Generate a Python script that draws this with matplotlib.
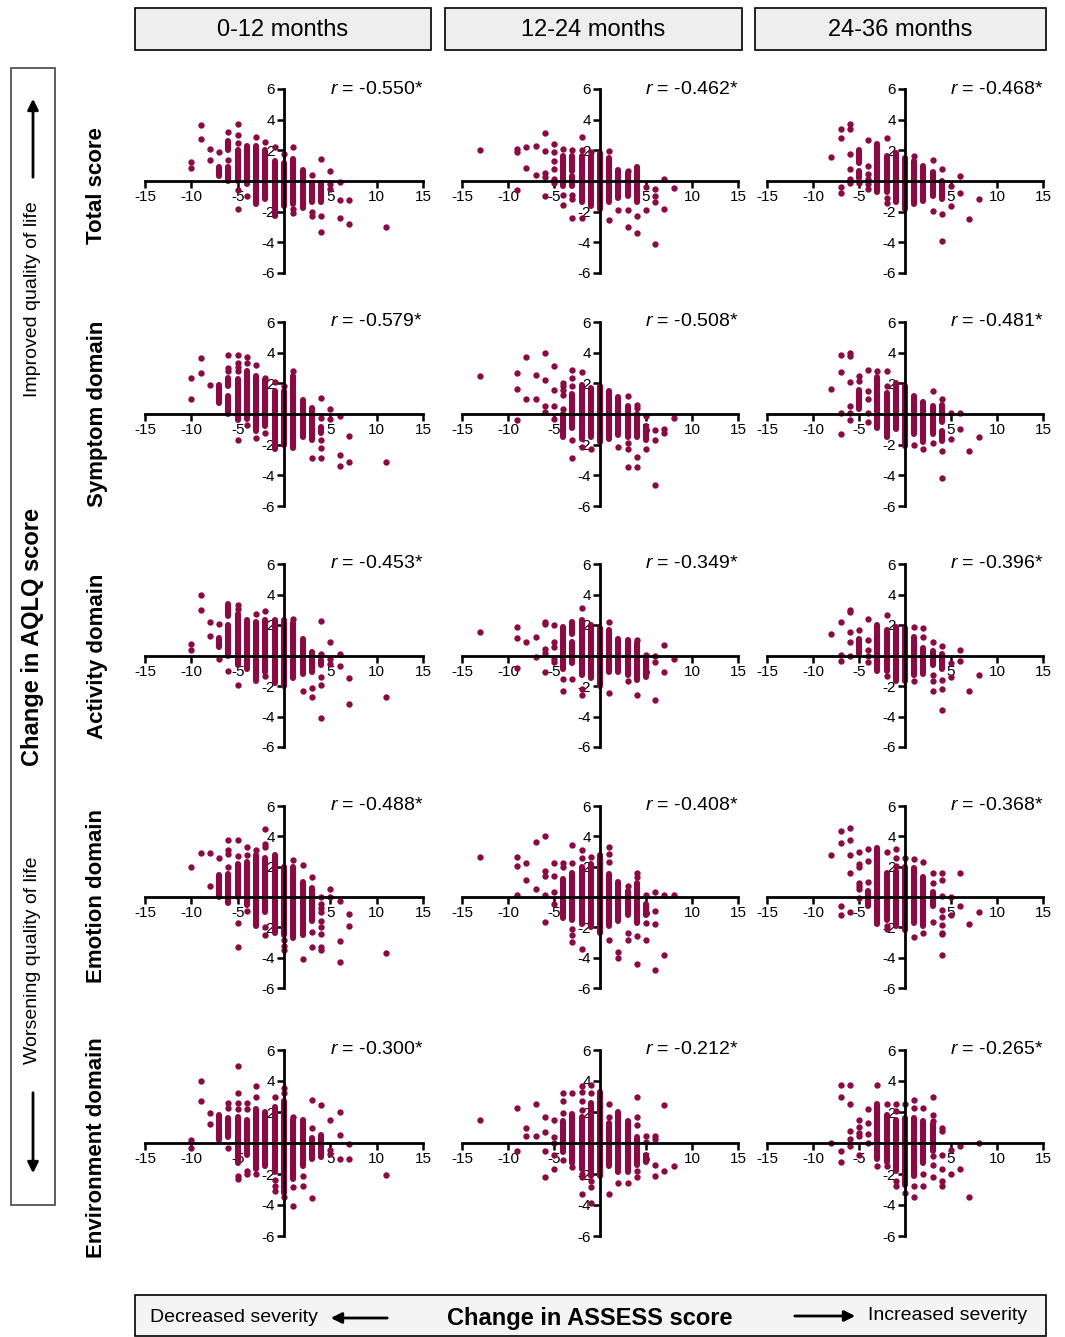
import matplotlib
matplotlib.use("Agg")
import matplotlib.pyplot as plt
from matplotlib.patches import Rectangle, FancyArrowPatch

plt.rcParams['font.family'] = ['Liberation Sans', 'DejaVu Sans']
plt.rcParams['axes.unicode_minus'] = False
plt.rcParams['mathtext.fontset'] = 'custom'
plt.rcParams['mathtext.it'] = 'Liberation Sans:italic'
plt.rcParams['mathtext.rm'] = 'Liberation Sans'

# ---------------- data ----------------
periods = ['0-12 months', '12-24 months', '24-36 months']
domains = ['Total score', 'Symptom domain', 'Activity domain', 'Emotion domain', 'Environment domain']
r_values = [['-0.550', '-0.462', '-0.468'],
            ['-0.579', '-0.508', '-0.481'],
            ['-0.453', '-0.349', '-0.396'],
            ['-0.488', '-0.408', '-0.368'],
            ['-0.300', '-0.212', '-0.265']]
x_ticks = [-15, -10, -5, 5, 10, 15]
y_ticks = [-6, -4, -2, 2, 4, 6]

# dense columns of points: x (ASSESS change), lower and upper AQLQ change
tot_a_cx = [-7, -6, -6, -5, -4, -3, -2, -1, 0, 1, 2, 3, 4]
tot_a_lo = [0.33, 2.0, 0.0, 0.0, -0.2, -1.5, -1.2, -2.3, -1.6, -1.5, -1.75, -1.4, -1.4]
tot_a_hi = [0.9, 2.6, 0.9, 2.0, 2.3, 2.3, 2.0, 1.3, 1.2, 1.45, 0.7, -0.1, -0.1]
tot_a_pts = {-10: [1.27, 0.83], -9: [3.65, 2.73], -8: [2.1, 1.35], -7: [1.9], -6: [3.17, 1.4],
             -5: [3.7, 3.0, 2.5, -0.6, -1.8], -4: [-1.0], -3: [2.85], -2: [2.55], -1: [2.2], 0: [1.75],
             1: [2.25, -1.85, -2.1], 3: [0.37, -2.0, -2.3], 4: [1.42, -2.3, -3.3], 5: [0.65, -0.2, -0.5],
             6: [-0.05, -1.25, -2.4], 7: [-1.25, -2.8], 11: [-3.0]}

tot_b_cx = [-4, -3, -3, -2, -1, 0, 1, 2, 3, 4]
tot_b_lo = [-0.3, 0.65, -0.3, -1.4, -1.6, -1.8, -1.4, -1.1, -1.0, -1.4]
tot_b_hi = [1.65, 1.65, 0.3, 1.6, 1.6, 1.8, 1.5, 0.7, 0.5, 0.9]
tot_b_pts = {-13: [2.05], -9: [2.1, 1.9, -0.6], -8: [2.2, 0.85], -7: [2.3, 0.4],
             -6: [3.15, 1.95, 0.5, 0.25, -1.0], -5: [2.4, 1.9, 1.3, 0.8, 0.1, -0.1],
             -4: [2.1, -0.9, -1.55], -3: [2.0, -0.9, -1.2, -2.4], -2: [2.9, 2.0, -2.4], -1: [1.9],
             1: [1.95, -2.55], 2: [-1.9], 3: [0.65, -1.9, -3.0], 4: [-2.3, -3.4], 5: [-0.4, -1.9],
             6: [-0.5, -1.0, -1.4, -4.1], 7: [0.15, -1.8], 8: [-0.45]}

tot_c_cx = [-5, -5, -3, -2, -1, 0, 1, 2, 3, 4]
tot_c_lo = [1.2, 0.2, -0.7, -0.7, -1.4, -1.8, -1.5, -1.3, -1.0, -1.2]
tot_c_hi = [2.0, 0.65, 2.4, 1.6, 1.8, 1.5, 1.3, 1.0, 0.6, 0.0]
tot_c_pts = {-8: [1.55], -7: [3.4, 2.8, -0.4, -0.75], -6: [3.75, 3.4, 1.75, 0.8, 0.1, -0.1],
             -5: [-0.1], -4: [2.7, 1.0, 0.45, 0.1, -0.2, -0.55], -2: [2.8, -1.1, -1.45], 1: [1.65],
             3: [1.35, -1.95], 4: [0.8, -2.15, -3.9], 5: [-0.3, -1.6], 6: [0.35, -0.8], 7: [-2.5], 8: [-1.2]}

sym_a_cx = [-7, -6, -6, -5, -4, -3, -2, -1, 0, 1, 2, 3, 4]
sym_a_lo = [0.7, 1.8, 0.0, -0.4, -0.3, -1.1, -0.8, -2.3, -2.0, -2.2, -1.5, -1.7, -1.25]
sym_a_hi = [1.9, 2.35, 1.15, 2.3, 2.8, 2.5, 2.2, 1.5, 1.5, 2.5, 0.9, 0.4, -0.85]
sym_a_pts = {-10: [2.35, 0.95], -9: [3.65, 2.65], -8: [1.9], -6: [3.85, 3.0, 2.8],
             -5: [3.85, 3.3, 3.05, 2.8, -1.7], -4: [3.75, 3.3, -0.7], -3: [3.2, -1.55], -2: [2.35, -1.25],
             -1: [2.1], 0: [1.8], 1: [2.8], 3: [-2.85], 4: [1.05, -0.25, -1.7, -2.2, -2.85],
             5: [0.35, -0.3], 6: [-0.1, -2.7, -3.4], 7: [-1.45, -3.1], 11: [-3.1]}

sym_b_cx = [-4, -3, -2, -1, 0, 1, 2, 3, 4, 5]
sym_b_lo = [-1.5, -0.9, -1.6, -1.5, -1.8, -1.6, -1.4, -1.5, -1.5, -1.7]
sym_b_hi = [0.0, 1.3, 1.9, 1.7, 1.8, 1.5, 1.1, 0.5, 0.0, -0.8]
sym_b_pts = {-13: [2.5], -9: [2.7, 1.65, -0.4], -8: [3.7, 1.0], -7: [2.55, 1.0],
             -6: [3.95, 2.25, 0.55, 0.15], -5: [3.15, 1.55, 0.5, -0.3], -4: [2.05, 1.8, 1.55, 1.25, 0.35],
             -3: [2.85, 2.35, 1.8, -1.7, -2.9], -2: [2.75, -2.15], -1: [-2.25], 2: [-2.15],
             3: [1.15, -1.9, -2.3, -3.45], 4: [0.6, 0.4, -2.8, -3.45], 5: [-0.15, -2.25],
             6: [-1.05, -1.7, -4.65], 7: [-0.95, -1.25], 8: [-0.25]}

sym_c_cx = [-5, -3, -2, -1, 0, 1, 2, 3, 4, 4]
sym_c_lo = [0.35, -0.9, -1.5, -1.0, -2.1, -1.3, -1.8, -1.3, -0.55, -1.75]
sym_c_hi = [1.55, 2.4, 1.4, 2.0, 1.8, 1.2, 0.8, 0.5, 0.6, -1.1]
sym_c_pts = {-8: [1.65], -7: [3.85, 2.75, 0.05, -1.3], -6: [4.0, 3.8, 2.1, 0.5, 0.05, -0.4],
             -5: [2.45, 2.15], -4: [2.9, 1.5, 0.95, 0.05, -0.55], -3: [2.8], -2: [2.8, 1.85],
             1: [-2.0], 2: [-2.25], 3: [1.5, -1.9], 4: [0.95, -2.4, -4.2], 5: [0.05, -1.6],
             6: [0.05, -0.95], 7: [-2.4], 8: [-1.5]}

act_a_cx = [-7, -6, -6, -5, -4, -3, -2, -1, 0, 1, 2, 3, 4]
act_a_lo = [0.55, 2.6, 0.0, -0.6, -0.9, -1.7, -1.1, -1.8, -2.0, -1.5, -1.2, -1.1, -0.65]
act_a_hi = [1.15, 3.4, 2.0, 2.7, 2.3, 2.2, 2.3, 2.3, 2.3, 2.1, 1.1, 0.2, -0.3]
act_a_pts = {-10: [0.75, 0.35], -9: [3.95, 3.0], -8: [2.2, 1.3], -7: [2.05, -0.2], -6: [-1.0],
             -5: [3.3, 3.05, -1.95], -3: [2.7], -2: [2.9, -1.35], 1: [2.4], 2: [-2.3], 3: [-2.1, -2.7],
             4: [2.25, 0.1, -1.4, -1.95, -4.1], 5: [0.9, -0.2, -0.55], 6: [0.1, -0.7],
             7: [-1.45, -3.15], 11: [-2.7]}

act_b_cx = [-4, -3, -3, -2, -1, 0, 1, 2, 3, 4, 5]
act_b_lo = [-0.9, 1.4, -0.5, -1.3, -1.5, -2.0, -1.1, -1.1, -1.3, -1.6, -1.4]
act_b_hi = [1.9, 2.2, 0.9, 2.3, 2.0, 1.8, 1.7, 1.1, 1.0, 0.8, -0.2]
act_b_pts = {-13: [1.55], -9: [1.9, 1.15, -0.8], -8: [0.9], -7: [1.2, -0.1],
             -6: [2.2, 2.05, 0.45, 0.15, -1.1], -5: [2.0, 0.9, 0.55, -0.2, -0.45], -4: [-1.55, -2.35],
             -3: [-1.55], -2: [3.1, -2.2, -2.6], 1: [2.2, -2.45], 3: [-1.65], 4: [1.0, -2.6], 5: [0.05],
             6: [0.0, -0.45, -2.9], 7: [0.7, -1.05], 8: [-0.2]}

act_c_cx = [-5, -3, -2, -1, 0, 1, 2, 3, 4]
act_c_lo = [0.1, -1.0, -1.0, -1.7, -1.7, -1.3, -1.2, -0.6, -0.9]
act_c_hi = [1.1, 2.0, 1.7, 1.9, 1.8, 1.2, 0.5, 0.3, 0.1]
act_c_pts = {-8: [1.4], -7: [2.2, 0.05, -0.35], -6: [3.0, 2.85, 1.55, 0.9, -0.05], -5: [1.7],
             -4: [2.4, 1.0, 0.35, 0.0, -0.4], -2: [2.65, -1.35], 1: [1.85, -1.65], 2: [1.8, 1.2],
             3: [0.9, -1.3, -1.7, -2.3], 4: [0.6, -1.6, -2.2, -3.55], 5: [-0.5, -1.4], 6: [0.35, -0.35],
             7: [-2.35], 8: [-1.3]}

emo_a_cx = [-7, -6, -5, -4, -3, -2, -1, 0, 1, 2, 3]
emo_a_lo = [0.0, -0.4, 0.0, -0.5, -1.9, -1.0, -2.4, -2.5, -2.7, -2.5, -1.6]
emo_a_hi = [1.45, 1.5, 2.2, 2.3, 2.8, 2.6, 2.8, 2.0, 2.0, 1.0, 0.6]
emo_a_pts = {-10: [1.95], -9: [2.9], -8: [2.9, 0.7], -7: [2.55], -6: [3.75, 3.1, 2.85, 1.95],
             -5: [3.75, 2.7, -1.7, -3.3], -4: [3.3, 2.75, -0.9], -3: [3.1], -2: [4.5, 3.5, 3.3, -2.0, -2.5],
             0: [-2.85, -3.2, -3.5], 1: [2.45], 2: [2.1, -4.1], 3: [1.3, -2.3, -3.3],
             4: [0.0, -0.45, -0.75, -1.0, -1.55, -2.0, -2.45, -3.3, -3.5], 5: [0.55, 0.0],
             6: [-0.25, -2.9, -4.3], 7: [-1.1, -1.9], 11: [-3.7]}

emo_b_cx = [-4, -3, -2, -1, 0, 1, 2, 3, 4, 5]
emo_b_lo = [-1.4, -1.5, -1.8, -2.0, -2.4, -1.9, -1.6, -1.2, -1.7, -1.2]
emo_b_hi = [1.2, 1.6, 2.0, 2.2, 2.8, 1.5, 1.0, 0.4, 0.9, -0.45]
emo_b_pts = {-13: [2.65], -9: [2.65, 2.05, 0.1], -8: [2.25, 1.1], -7: [3.65, 0.5],
             -6: [4.0, 1.7, 1.4, 0.1, -1.65], -5: [2.25, 1.4, 0.35, -0.45], -4: [2.25, 2.0],
             -3: [3.45, 2.25, -2.1, -2.5, -2.95], -2: [3.1, 2.55, -3.4], -1: [2.65],
             1: [3.3, 2.85, 2.3, -2.85], 2: [-3.6, -4.0], 3: [0.7, -2.4, -2.85], 4: [1.55, 1.3, -2.6, -4.4],
             5: [0.1, -1.7, -2.85], 6: [0.35, -0.9, -1.8, -4.8], 7: [0.1, -3.8], 8: [0.1]}

emo_c_cx = [-4, -3, -2, -1, 0, 1, 2, 3]
emo_c_lo = [-0.6, -1.8, -1.5, -1.9, -2.2, -1.7, -1.9, -0.6]
emo_c_hi = [0.4, 3.2, 1.6, 1.7, 2.0, 1.9, 1.3, 0.3]
emo_c_pts = {-8: [2.75], -7: [4.35, 3.55, -0.6, -1.2], -6: [4.55, 3.75, 2.75, 1.55, -1.0],
             -5: [2.95, 2.15, 1.95, 0.95, 0.7, 0.5, -0.05], -4: [3.15, 2.4, 1.0], -2: [2.95, -1.9, -2.1],
             -1: [3.15, 2.6, 2.05], 0: [2.6], 1: [2.5, -2.65], 2: [2.3, -2.4], 3: [1.55, 0.9, -1.65],
             4: [1.6, 1.15, 0.05, -0.85, -1.3, -1.85, -2.35, -2.45, -3.8], 5: [0.0, -1.2],
             6: [1.55, -0.6], 7: [-1.8], 8: [-1.0]}

env_a_cx = [-7, -6, -5, -4, -3, -2, -1, 0, 1, 2, 3, 4]
env_a_lo = [0.2, 0.4, -1.3, -0.8, -1.7, -1.5, -1.9, -3.2, -2.3, -1.5, -1.0, -0.9]
env_a_hi = [1.8, 1.6, 1.7, 1.5, 2.2, 2.0, 2.3, 2.7, 1.5, 1.5, 0.3, 0.5]
env_a_pts = {-10: [0.2, -0.3], -9: [4.0, 2.7], -8: [1.95, 1.2], -6: [2.55, 2.25, -0.3],
             -5: [5.0, 3.25, 2.55, 2.2, -2.1, -2.3], -4: [2.55, 2.2, -1.8, -2.0], -3: [3.7, 3.0, -2.0],
             -1: [2.95, -2.4, -2.75, -3.1], 0: [3.55, 3.2, -3.5], 1: [1.7, -2.85, -4.05],
             2: [-2.1, -2.75], 3: [2.8, 0.95, -3.55], 4: [2.45], 5: [1.5, -0.45, -0.7],
             6: [2.0, 0.5, -1.05], 7: [-0.05, -1.05], 11: [-2.05]}

env_b_cx = [-4, -3, -2, -1, 0, 1, 2, 3, 4, 5]
env_b_lo = [-0.6, -1.3, -1.7, -2.1, -2.1, -1.5, -1.9, -1.9, -1.4, -1.25]
env_b_hi = [1.4, 1.9, 1.7, 2.6, 3.3, 1.3, 2.0, 1.4, 0.4, -0.8]
env_b_pts = {-13: [1.5], -9: [2.25, -0.5], -8: [1.0, 0.45], -7: [2.5, 0.45], -6: [1.7, 0.7, -0.5, -2.2],
             -5: [1.5, 0.4, 0.0, -0.8, -1.7], -4: [3.2, 2.7, 1.95, -1.1], -3: [3.2, -1.55],
             -2: [3.65, 3.3, 2.7, 2.15, -2.0, -2.2, -3.3], -1: [3.75, 3.2, -2.45, -2.85, -3.85],
             1: [2.5, 1.7, -3.3], 2: [-2.55], 3: [-2.55], 4: [2.95, 1.7, 1.15, -1.8, -2.2],
             5: [0.45, 0.05], 6: [0.45, 0.25, -1.45, -2.15], 7: [2.45, -1.8], 8: [-1.5]}

env_c_cx = [-3, -2, -1, 0, 1, 2, 3]
env_c_lo = [-1.0, -1.2, -1.8, -2.7, -2.1, -1.3, -0.5]
env_c_hi = [2.5, 1.8, 1.5, 1.6, 1.6, 1.4, 1.2]
env_c_pts = {-8: [0.0], -7: [3.75, 2.95, -0.5, -1.25], -6: [3.75, 2.5, 0.8, 0.25, -0.2],
             -5: [1.5, 1.05, 0.65, 0.45, -0.75], -4: [2.2, 1.3, 0.55, 0.0], -3: [3.75, -1.5],
             -2: [2.5, -1.5], -1: [2.5, 2.05, -2.45, -2.8], 0: [2.5, -3.2], 1: [2.8, 2.25, -2.8, -3.5],
             2: [2.25, -2.0, -2.75], 3: [3.0, 1.8, 1.4, -0.85, -1.4, -2.2],
             4: [1.0, 0.75, -0.8, -1.7, -2.45, -2.8], 5: [-0.45, -2.0], 6: [-0.2, -1.7], 7: [-3.5], 8: [0.0]}

panels = [
    [(tot_a_cx, tot_a_lo, tot_a_hi, tot_a_pts), (tot_b_cx, tot_b_lo, tot_b_hi, tot_b_pts), (tot_c_cx, tot_c_lo, tot_c_hi, tot_c_pts)],
    [(sym_a_cx, sym_a_lo, sym_a_hi, sym_a_pts), (sym_b_cx, sym_b_lo, sym_b_hi, sym_b_pts), (sym_c_cx, sym_c_lo, sym_c_hi, sym_c_pts)],
    [(act_a_cx, act_a_lo, act_a_hi, act_a_pts), (act_b_cx, act_b_lo, act_b_hi, act_b_pts), (act_c_cx, act_c_lo, act_c_hi, act_c_pts)],
    [(emo_a_cx, emo_a_lo, emo_a_hi, emo_a_pts), (emo_b_cx, emo_b_lo, emo_b_hi, emo_b_pts), (emo_c_cx, emo_c_lo, emo_c_hi, emo_c_pts)],
    [(env_a_cx, env_a_lo, env_a_hi, env_a_pts), (env_b_cx, env_b_lo, env_b_hi, env_b_pts), (env_c_cx, env_c_lo, env_c_hi, env_c_pts)],
]

# ---------------- layout ----------------
W, H = 1065, 1337
DOT = '#8a0a44'
fig = plt.figure(figsize=(W / 100, H / 100), dpi=100)
fig.patch.set_facecolor('white')

def fx(px):
    return px / W

def fy(py):
    return 1 - py / H

col_px = [(145, 423), (462, 738), (767, 1043)]
row_px = [(89, 273), (322, 506), (564, 747), (806, 988), (1050, 1236)]

for ri, (y0, y1) in enumerate(row_px):
    for ci, (x0, x1) in enumerate(col_px):
        ax = fig.add_axes([fx(x0), fy(y1), (x1 - x0) / W, (y1 - y0) / H])
        ax.patch.set_alpha(0)
        ax.set_xlim(-15, 15)
        ax.set_ylim(-6, 6)
        for s in ('top', 'right'):
            ax.spines[s].set_visible(False)
        ax.spines['left'].set_position(('data', 0))
        ax.spines['bottom'].set_position(('data', 0))
        for s in ('left', 'bottom'):
            ax.spines[s].set_linewidth(2.0)
            ax.spines[s].set_zorder(4)
        ax.set_xticks(x_ticks)
        ax.set_yticks(y_ticks)
        ax.tick_params(direction='out', length=5, width=1.8, labelsize=11, pad=1.5, colors='black')
        ax.xaxis.set_zorder(2)
        ax.yaxis.set_zorder(2)
        cx, lo, hi, pts = panels[ri][ci]
        ax.vlines(cx, lo, hi, colors=DOT, linewidth=4.4, capstyle='round', zorder=3)
        px = [k for k, v in pts.items() for _ in v]
        py = [y for v in pts.values() for y in v]
        ax.scatter(px, py, s=21, c=DOT, linewidths=0, zorder=3)
        ax.text(1.0, 1.0, r'$\mathit{r}$ = ' + r_values[ri][ci] + '*', transform=ax.transAxes,
                ha='right', va='center', fontsize=14)

# column headers
hdr_px = [(135, 431), (445, 742), (755, 1046)]
for (x0, x1), lab in zip(hdr_px, periods):
    fig.patches.append(Rectangle((fx(x0), fy(50)), (x1 - x0) / W, 42 / H, transform=fig.transFigure,
                                 facecolor='#eeeeee', edgecolor='black', linewidth=1.2))
    fig.text(fx((x0 + x1) / 2), fy(30), lab, ha='center', va='center', fontsize=17)

# row labels
row_lab_y = [186, 414, 656, 896, 1148]
for yy, lab in zip(row_lab_y, domains):
    fig.text(fx(97), fy(yy), lab, rotation=90, ha='center', va='center', fontsize=16, fontweight='bold')

# left box
fig.patches.append(Rectangle((fx(11), fy(1205)), 44 / W, (1205 - 68) / H, transform=fig.transFigure,
                             facecolor='white', edgecolor='#444444', linewidth=1.2))
fig.text(fx(33), fy(637), 'Change in AQLQ score', rotation=90, ha='center', va='center',
         fontsize=17, fontweight='bold')
fig.text(fx(33), fy(299), 'Improved quality of life', rotation=90, ha='center', va='center', fontsize=14)
fig.text(fx(33), fy(960), 'Worsening quality of life', rotation=90, ha='center', va='center', fontsize=14)
for (a, b) in [((33, 180), (33, 96)), ((33, 1090), (33, 1176))]:
    fig.patches.append(FancyArrowPatch((fx(a[0]), fy(a[1])), (fx(b[0]), fy(b[1])), transform=fig.transFigure,
                                       arrowstyle='-|>', mutation_scale=16, linewidth=2, color='black'))

# bottom box
fig.patches.append(Rectangle((fx(135), fy(1336)), (1046 - 135) / W, 41 / H, transform=fig.transFigure,
                             facecolor='#f4f4f4', edgecolor='black', linewidth=1.2))
fig.text(fx(590), fy(1318), 'Change in ASSESS score', ha='center', va='center', fontsize=17, fontweight='bold')
fig.text(fx(150), fy(1318), 'Decreased severity', ha='left', va='center', fontsize=14)
fig.text(fx(868), fy(1315), 'Increased severity', ha='left', va='center', fontsize=14)
for (a, b) in [((390, 1318), (328, 1318)), ((792, 1316), (858, 1316))]:
    fig.patches.append(FancyArrowPatch((fx(a[0]), fy(a[1])), (fx(b[0]), fy(b[1])), transform=fig.transFigure,
                                       arrowstyle='-|>', mutation_scale=16, linewidth=2, color='black'))

fig.savefig('out.png', dpi=100)
